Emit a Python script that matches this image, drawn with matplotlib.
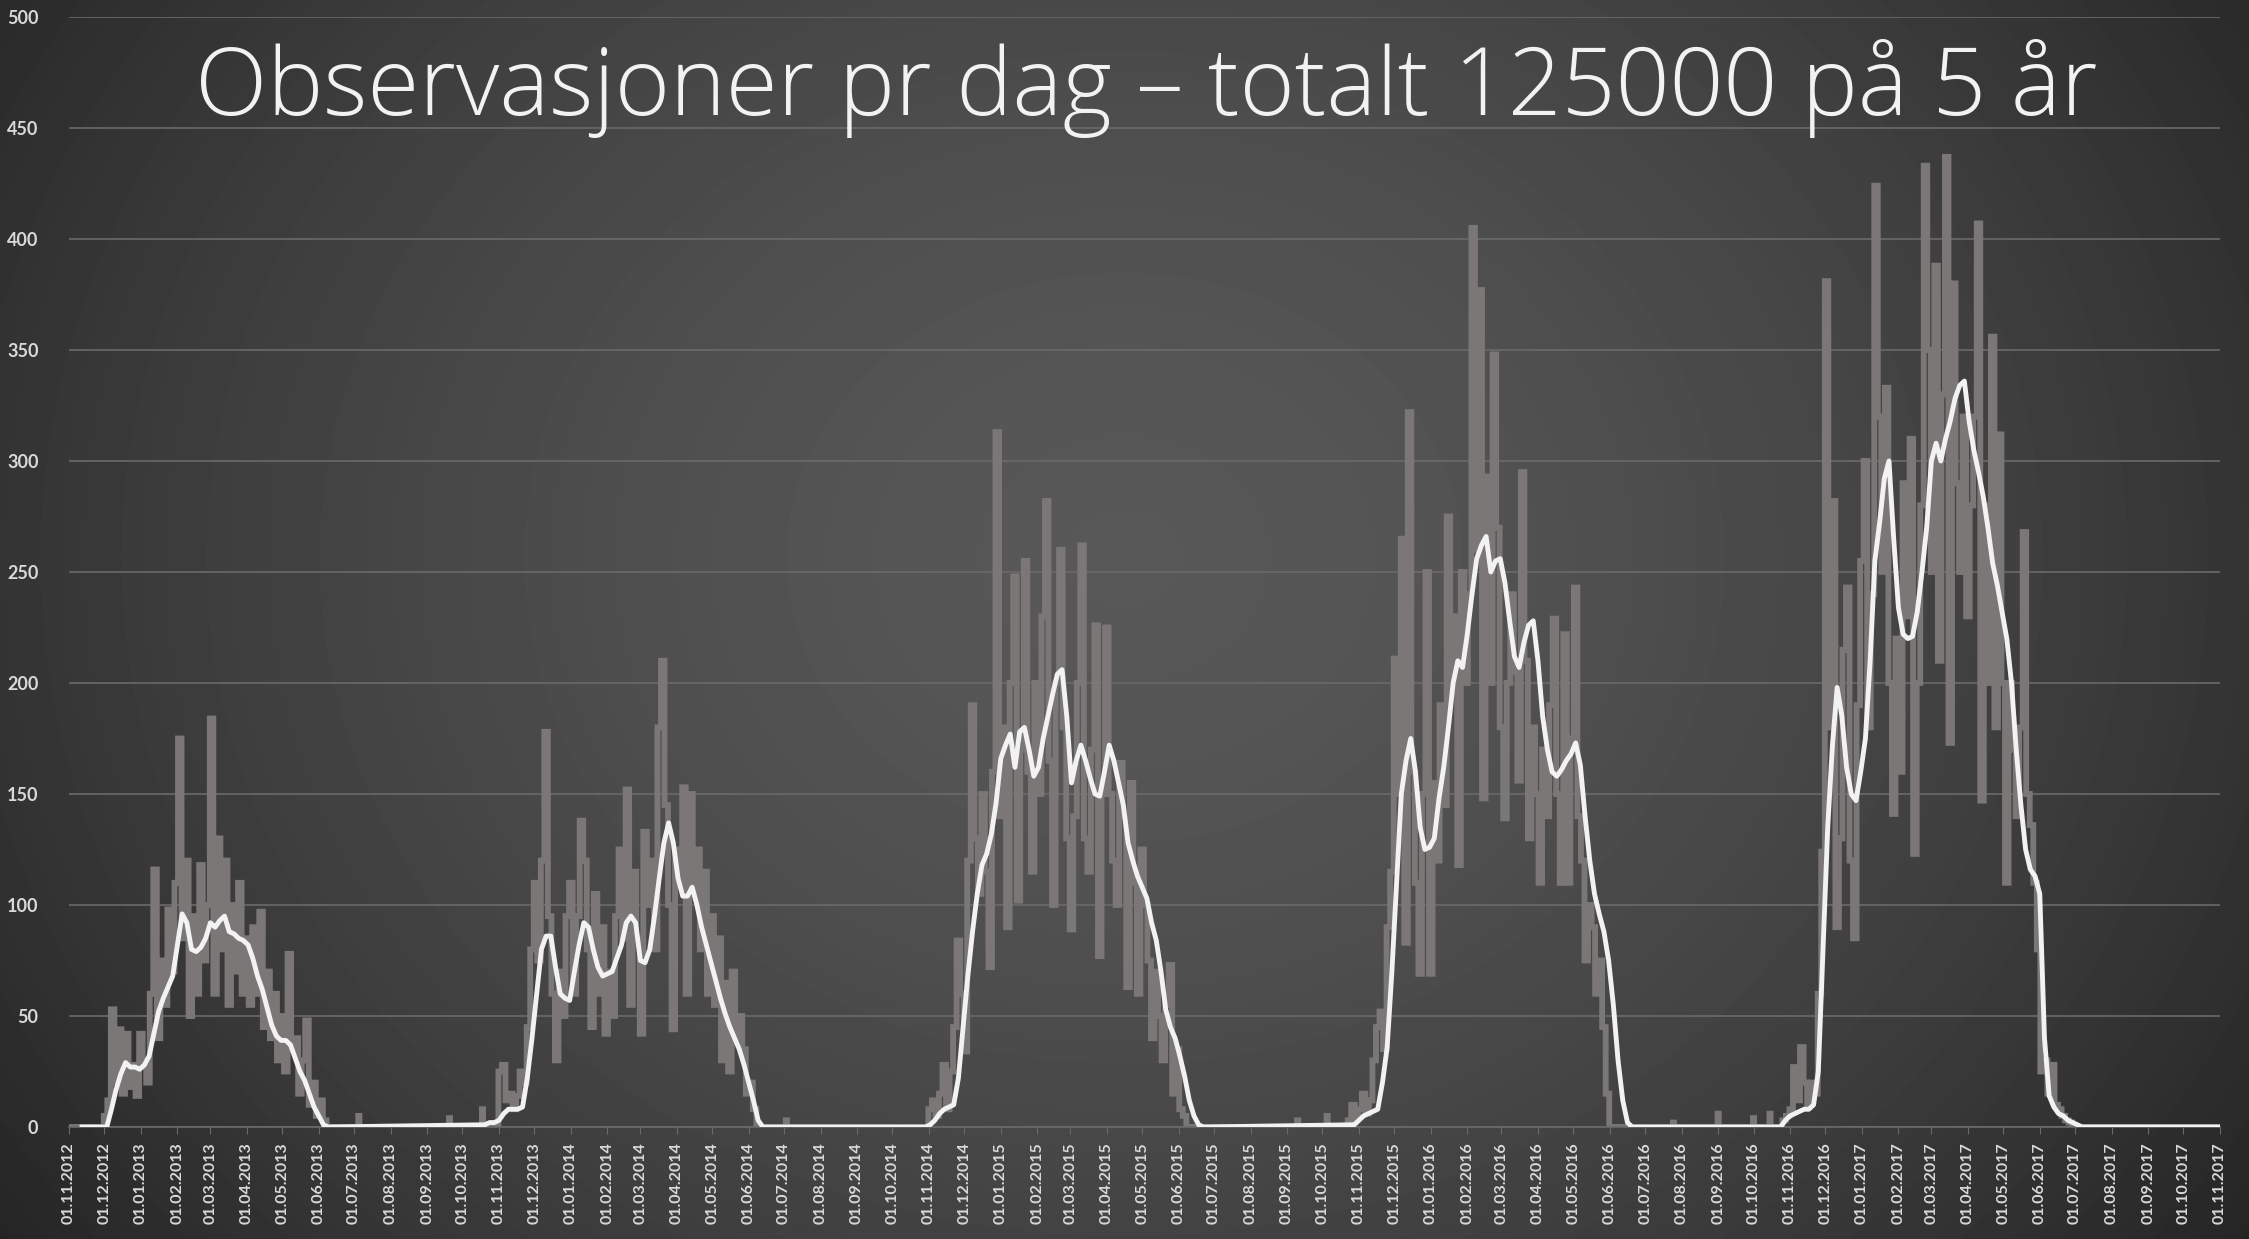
import numpy as np
import pandas as pd
import matplotlib
matplotlib.use("Agg")
import matplotlib.pyplot as plt
from matplotlib import font_manager as fm

gray_starts = ["2012-11-28", "2013-11-01", "2014-11-01", "2015-10-23", "2016-10-26"]
gray_2013 = [0, 5, 12, 53, 20, 44, 15, 42, 18, 28, 14, 42, 30, 20, 60, 116, 40, 75, 55, 98,
             70, 110, 175, 85, 120, 50, 95, 60, 118, 75, 100, 184, 60, 130, 80, 120, 55, 100,
             70, 110, 60, 85, 55, 90, 60, 97, 45, 70, 40, 60, 30, 50, 25, 78, 35, 40, 15, 30,
             48, 10, 20, 5, 12, 3, 0, 0]
gray_2014 = [25, 28, 12, 15, 8, 14, 25, 20, 45, 80, 110, 75, 120, 178, 95, 60, 30, 70, 50, 95,
             110, 60, 95, 138, 120, 80, 45, 105, 60, 90, 42, 70, 50, 95, 125, 85, 152, 55, 115,
             85, 42, 133, 100, 120, 80, 180, 210, 145, 100, 44, 125, 110, 153, 60, 150, 105,
             125, 80, 115, 60, 95, 55, 85, 30, 65, 25, 70, 40, 50, 35, 15, 20, 8, 0]
gray_2015 = [8, 12, 5, 15, 28, 8, 25, 45, 84, 60, 34, 120, 190, 130, 105, 150, 115, 72, 160,
             313, 140, 180, 90, 200, 248, 102, 170, 255, 160, 115, 200, 150, 230, 282, 165, 100,
             200, 260, 180, 130, 89, 140, 200, 262, 130, 115, 170, 226, 77, 150, 225, 150, 120,
             100, 164, 140, 63, 155, 110, 60, 125, 100, 75, 40, 70, 50, 30, 55, 73, 15, 35, 8,
             5, 0]
gray_2016 = [3, 10, 4, 8, 15, 6, 12, 30, 45, 52, 35, 90, 115, 211, 150, 265, 83, 322, 160, 110,
             69, 150, 250, 69, 155, 120, 190, 145, 275, 195, 230, 118, 250, 200, 240, 405, 260,
             377, 148, 293, 200, 348, 270, 180, 139, 200, 240, 205, 156, 295, 210, 130, 180, 150,
             110, 170, 140, 190, 229, 150, 110, 222, 110, 175, 243, 140, 120, 75, 100, 90, 60,
             75, 45, 15, 0]
gray_2017 = [3, 5, 8, 27, 12, 36, 20, 10, 20, 15, 60, 124, 381, 180, 282, 90, 130, 215, 243,
             120, 85, 190, 255, 300, 180, 240, 424, 320, 250, 333, 200, 141, 220, 160, 290, 230,
             310, 123, 200, 280, 433, 350, 250, 388, 210, 330, 437, 173, 380, 290, 250, 320, 230,
             280, 320, 407, 147, 280, 200, 356, 180, 312, 200, 110, 200, 170, 140, 180, 268, 150,
             136, 110, 80, 25, 30, 15, 28, 10, 8, 5, 3, 2, 0]
gray_seasons = [gray_2013, gray_2014, gray_2015, gray_2016, gray_2017]
gray_offseason_days = ["2013-07-05", "2013-09-20", "2013-10-18", "2014-07-03", "2015-09-10",
                       "2015-10-05", "2016-07-25", "2016-09-01", "2016-10-01", "2016-10-15"]
gray_offseason_vals = [5, 4, 8, 3, 3, 5, 2, 6, 4, 6]

# smoothed line (white), one value every 4 days
white_first_day = "2012-11-12"
white_starts = ["2012-11-29", "2013-10-20", "2014-10-29", "2015-10-28", "2016-10-24"]
white_2013 = [0, 0, 8, 17, 24, 29, 27, 27, 26, 28, 32, 42, 52, 58, 63, 68, 82, 96, 92, 80, 79,
              81, 85, 92, 90, 93, 95, 88, 87, 85, 84, 82, 76, 68, 62, 54, 46, 41, 39, 39, 37, 31,
              25, 21, 15, 9, 5, 1, 0]
white_2014 = [1, 2, 2, 3, 6, 8, 8, 8, 9, 22, 40, 60, 80, 86, 86, 72, 60, 58, 57, 70, 82, 92, 90,
              80, 72, 68, 69, 70, 76, 82, 92, 95, 92, 75, 74, 80, 95, 112, 128, 137, 128, 112,
              104, 104, 108, 100, 90, 82, 74, 66, 58, 51, 45, 40, 35, 28, 20, 12, 3, 0]
white_2015 = [0, 1, 3, 6, 8, 9, 10, 22, 45, 68, 88, 105, 118, 123, 132, 146, 166, 172, 177, 162,
              178, 180, 170, 158, 162, 175, 185, 195, 204, 206, 185, 155, 165, 172, 165, 157, 150,
              149, 160, 172, 165, 155, 145, 128, 120, 113, 108, 103, 92, 84, 70, 53, 45, 40, 32,
              23, 12, 5, 1, 0]
white_2016 = [1, 3, 5, 6, 7, 8, 20, 36, 70, 110, 150, 165, 175, 160, 135, 125, 126, 130, 148,
              162, 180, 200, 210, 207, 222, 240, 256, 262, 266, 250, 255, 256, 245, 228, 212, 207,
              218, 226, 228, 210, 185, 170, 160, 158, 161, 165, 168, 173, 163, 140, 120, 105, 96,
              88, 75, 55, 30, 12, 2, 0]
white_2017 = [0, 3, 5, 6, 7, 8, 8, 10, 25, 80, 135, 172, 198, 185, 162, 150, 147, 160, 175, 210,
              255, 272, 292, 300, 265, 234, 222, 220, 221, 232, 250, 270, 300, 308, 300, 310, 318,
              328, 334, 336, 318, 305, 295, 284, 270, 254, 244, 232, 220, 200, 170, 145, 125, 116,
              113, 105, 40, 14, 9, 6, 5, 3, 2, 1, 0]
white_seasons = [white_2013, white_2014, white_2015, white_2016, white_2017]

first_day = "2012-11-01"
last_day = "2017-11-01"
title = "Observasjoner pr dag \u2013 totalt 125000 p\u00e5 5 \u00e5r"

# build the daily grey series (each read value holds for its 3-day block)
days = pd.date_range(first_day, last_day, freq="D")
gray = pd.Series(0.0, index=days)
for start, vals in zip(gray_starts, gray_seasons):
    for i, v in enumerate(vals):
        d0 = pd.Timestamp(start) + pd.Timedelta(days=3 * i)
        gray[d0:d0 + pd.Timedelta(days=2)] = v
for d, v in zip(gray_offseason_days, gray_offseason_vals):
    gray[pd.Timestamp(d)] = v

# white line knots
white_dates = [pd.Timestamp(white_first_day)]
white_vals = [0]
for start, vals in zip(white_starts, white_seasons):
    for i, v in enumerate(vals):
        white_dates.append(pd.Timestamp(start) + pd.Timedelta(days=4 * i))
        white_vals.append(v)
white_dates.append(pd.Timestamp(last_day))
white_vals.append(0)

fig = plt.figure(figsize=(22.49, 12.39), dpi=100)

# radial dark-grey background
bg = fig.add_axes([0, 0, 1, 1])
yy, xx = np.mgrid[0:1:300j, 0:1:500j]
r = np.sqrt(((xx - 0.5) / 0.62) ** 2 + ((yy - 0.55) / 0.95) ** 2)
shade = 0.345 - 0.20 * np.clip(r, 0, 1) ** 1.6
bg.imshow(shade, cmap="gray", vmin=0, vmax=1, extent=[0, 1, 0, 1], aspect="auto",
          origin="lower", interpolation="bilinear")
bg.axis("off")

ax = fig.add_axes([0.0307, 0.0904, 0.9564, 0.8959])
ax.set_facecolor("none")

ax.plot(gray.index, gray.values, drawstyle="steps-mid", color="#7b7777", lw=4.2,
        solid_joinstyle="miter", zorder=2)
ax.plot(white_dates, white_vals, color="#f2f2f2", lw=3.5, zorder=3)

ax.set_ylim(0, 500)
ax.set_xlim(pd.Timestamp(first_day), pd.Timestamp(last_day))
ax.set_yticks(range(0, 501, 50))
ax.grid(axis="y", color="#6a6a6a", lw=1.2)
ax.set_axisbelow(True)

months = pd.date_range(first_day, last_day, freq="MS")
ax.set_xticks(months)
ax.set_xticklabels([m.strftime("%d.%m.%Y") for m in months], rotation=90, va="top",
                   ha="center")
ax.tick_params(axis="x", length=5, color="#6a6a6a", pad=6, labelsize=11.5,
               labelcolor="#d9d9d9")
ax.tick_params(axis="y", length=0, pad=22, labelsize=13, labelcolor="#d9d9d9")
for lab in ax.get_xticklabels() + ax.get_yticklabels():
    lab.set_family(["Lato", "DejaVu Sans"])
    lab.set_fontweight("bold")

for s in ["top", "right", "left"]:
    ax.spines[s].set_visible(False)
ax.spines["bottom"].set_color("#6a6a6a")
ax.spines["bottom"].set_linewidth(1.2)

# title in Open Sans Light, sized to the width it has in the original
light = [f.fname for f in fm.fontManager.ttflist if f.fname.endswith("OpenSans-Light.ttf")]
if light:
    tprops = fm.FontProperties(fname=light[0])
else:
    tprops = fm.FontProperties(family="Lato", weight="light")
ttl = fig.text(0.5095, 0.907, title, ha="center", va="baseline", color="#f2f2f2",
               fontproperties=tprops, fontsize=66)
renderer = fig.canvas.get_renderer()
w = ttl.get_window_extent(renderer).width
ttl.set_fontsize(66 * 1900 / w)

fig.savefig("out.png", dpi=100)
print("done")
